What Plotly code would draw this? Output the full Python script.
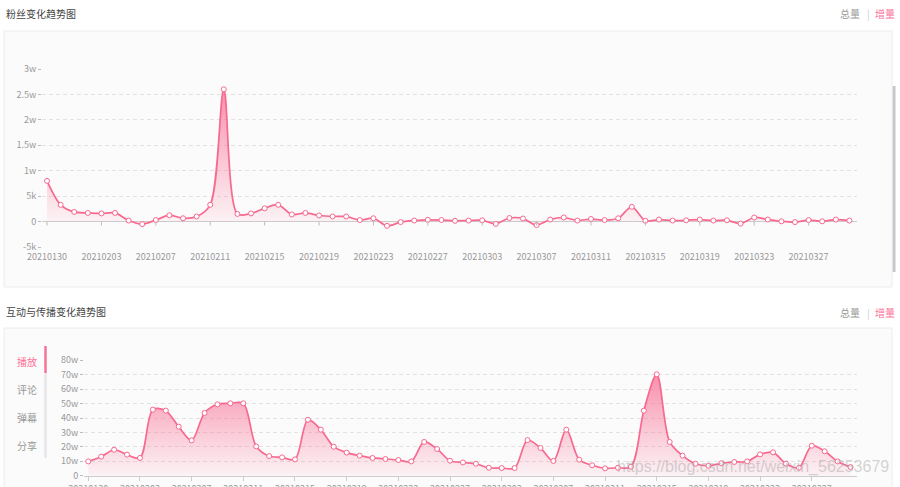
import plotly.graph_objects as go

# ---------------- data ----------------
dates = (
    [f"202101{d:02d}" for d in (30, 31)]
    + [f"202102{d:02d}" for d in range(1, 29)]
    + [f"202103{d:02d}" for d in range(1, 31)]
)

fans_delta = [
    8000, 3300, 1900, 1700, 1600, 1700, 200, -500, 300, 1250,
    650, 1000, 3300, 26000, 1500, 1600, 2600, 3300, 1400, 1700,
    1200, 1000, 1000, 300, 650, -850, -100, 200, 350, 300,
    150, 200, 250, -450, 700, 600, -700, 400, 800, 200,
    500, 300, 650, 2900, 150, 400, 200, 250, 400, 200,
    250, -400, 800, 400, 50, -100, 300, 50, 400, 200,
]

play_delta_w = [
    9.9, 13.2, 18.0, 14.6, 12.3, 45.8, 45.1, 34.0, 24.5, 43.5,
    49.5, 50.2, 50.2, 20.3, 13.6, 12.7, 11.3, 38.8, 31.9, 20.1,
    16.0, 13.9, 12.3, 11.6, 10.9, 9.9, 23.4, 18.5, 10.4, 9.2,
    8.3, 5.5, 5.3, 5.3, 24.7, 19.2, 10.2, 31.9, 11.1, 7.2,
    5.1, 5.5, 6.2, 45.1, 70.3, 23.4, 13.9, 8.3, 6.9, 8.6,
    9.5, 9.9, 14.8, 16.2, 8.3, 5.5, 20.8, 16.9, 9.9, 6.0,
]
play_delta = [v * 10000 for v in play_delta_w]

x_tick_vals = dates[::4][:15]
fans_y_ticks = [-5000, 0, 5000, 10000, 15000, 20000, 25000, 30000]
fans_y_text = ["-5k", "0", "5k", "1w", "1.5w", "2w", "2.5w", "3w"]
play_y_ticks = [0, 100000, 200000, 300000, 400000, 500000, 600000, 700000, 800000]
play_y_text = ["0", "10w", "20w", "30w", "40w", "50w", "60w", "70w", "80w"]
tabs = ["播放", "评论", "弹幕", "分享"]

# ---------------- style ----------------
W, H = 900, 487
PINK = "#f7698f"
PINK_TXT = "#fb7299"
GRAY_TXT = "#999999"
FONT = "Noto Sans CJK SC"


def px(x):
    return x / W


def py(y):
    return 1 - y / H


grad = dict(
    type="vertical",
    colorscale=[[0, "rgba(251,114,153,0.07)"], [1, "rgba(247,100,140,0.72)"]],
)

fig = go.Figure()

fig.add_trace(go.Scatter(
    x=dates, y=fans_delta, xaxis="x", yaxis="y",
    mode="lines+markers", line=dict(color=PINK, width=1.7, shape="spline", smoothing=0.9),
    marker=dict(size=5, color="white", line=dict(color=PINK, width=1)),
    fill="tozeroy", fillgradient=dict(grad, start=0, stop=max(fans_delta)),
    hoverinfo="skip", showlegend=False,
))
fig.add_trace(go.Scatter(
    x=dates, y=play_delta, xaxis="x2", yaxis="y2",
    mode="lines+markers", line=dict(color=PINK, width=1.7, shape="spline", smoothing=0.9),
    marker=dict(size=5, color="white", line=dict(color=PINK, width=1)),
    fill="tozeroy", fillgradient=dict(grad, start=0, stop=max(play_delta)),
    hoverinfo="skip", showlegend=False,
))

tick_font = dict(family=FONT, size=9, color=GRAY_TXT)
grid = dict(showgrid=True, gridcolor="#e2e2e2", griddash="4px,3px", gridwidth=1)

fig.update_layout(
    width=W, height=H, autosize=False,
    margin=dict(l=0, r=0, t=0, b=0, pad=0),
    paper_bgcolor="white", plot_bgcolor="rgba(0,0,0,0)",
    font=dict(family=FONT),
    xaxis=dict(
        domain=[px(42), px(857)], anchor="y", type="category", automargin=False,
        range=[-0.37, 59.56], tickvals=x_tick_vals, ticktext=x_tick_vals,
        showgrid=False, ticks="", showline=False, zeroline=False,
        tickfont=tick_font, ticklabelstandoff=3,
    ),
    yaxis=dict(
        domain=[py(247), py(69)], anchor="x", range=[-5000, 30000], automargin=False,
        tickvals=fans_y_ticks, ticktext=fans_y_text,
        ticks="outside", ticklen=3, tickcolor="#bbbbbb",
        zeroline=True, zerolinecolor="#cccccc", zerolinewidth=1.2,
        tickfont=tick_font, **grid,
    ),
    xaxis2=dict(
        domain=[px(84), px(857)], anchor="y2", type="category", automargin=False,
        range=[-0.33, 59.5], tickvals=x_tick_vals, ticktext=x_tick_vals,
        showgrid=False, ticks="outside", ticklen=4, tickcolor="#cccccc",
        showline=True, linecolor="#cccccc", linewidth=1.2, zeroline=False,
        tickfont=tick_font,
    ),
    yaxis2=dict(
        domain=[py(475.7), py(360.3)], anchor="x2", range=[0, 800000], automargin=False,
        tickvals=play_y_ticks, ticktext=play_y_text,
        ticks="outside", ticklen=3, tickcolor="#bbbbbb",
        zeroline=False, tickfont=tick_font, **grid,
    ),
)

shapes = []
# cards
shapes.append(dict(type="rect", xref="paper", yref="paper", layer="below",
                   x0=px(4), x1=px(892), y0=py(287), y1=py(31),
                   fillcolor="#fbfbfb", line=dict(color="#ececec", width=1)))
shapes.append(dict(type="rect", xref="paper", yref="paper", layer="below",
                   x0=px(4), x1=px(892), y0=py(495), y1=py(328),
                   fillcolor="#fbfbfb", line=dict(color="#ececec", width=1)))
# scrollbar
shapes.append(dict(type="rect", xref="paper", yref="paper",
                   x0=px(892.7), x1=px(895.5), y0=py(272), y1=py(86),
                   fillcolor="#c6c6cb", line=dict(width=0)))
# tab indicator bar
shapes.append(dict(type="rect", xref="paper", yref="paper",
                   x0=px(44.3), x1=px(46.7), y0=py(458), y1=py(346),
                   fillcolor="#e6e6ea", line=dict(width=0)))
shapes.append(dict(type="rect", xref="paper", yref="paper",
                   x0=px(44.3), x1=px(46.7), y0=py(373), y1=py(346),
                   fillcolor=PINK_TXT, line=dict(width=0)))
# x ticks on the zero line of the fans chart
for d in x_tick_vals:
    i = dates.index(d)
    shapes.append(dict(type="line", xref="x", yref="y", ysizemode="pixel",
                       yanchor=0, x0=i, x1=i, y0=0, y1=-4,
                       line=dict(color="#bbbbbb", width=1)))
fig.update_layout(shapes=shapes)

ann = []


def text(t, x, y, color="#444444", size=10, xanchor="left", opacity=1.0):
    ann.append(dict(text=t, xref="paper", yref="paper", x=px(x), y=py(y),
                    xanchor=xanchor, yanchor="middle", showarrow=False,
                    font=dict(family=FONT, size=size, color=color), opacity=opacity))


text("粉丝变化趋势图", 4, 13.5)
text("互动与传播变化趋势图", 4, 311.5)
for yy in (13.7, 312.7):
    text("总量", 838, yy, color=GRAY_TXT)
    text("|", 864.5, yy, color="#cccccc")
    text("增量", 873, yy, color=PINK_TXT)
for k, (t, yy) in enumerate(zip(tabs, (361.5, 389, 417, 445))):
    text(t, 14.5, yy, color=PINK_TXT if k == 0 else GRAY_TXT)
# watermark
ann.append(dict(text="https://blog.csdn.net/weixin_56253679", xref="paper", yref="paper",
                x=px(891), y=py(467), xanchor="right", yanchor="middle", showarrow=False,
                font=dict(family="Liberation Sans", size=16, color="rgba(160,160,160,0.45)")))
fig.update_layout(annotations=ann)

fig.write_html(
    "out.html",
    config={"displayModeBar": False, "staticPlot": True},
    post_script="document.body.style.margin='0';document.body.style.overflow='hidden';",
)
